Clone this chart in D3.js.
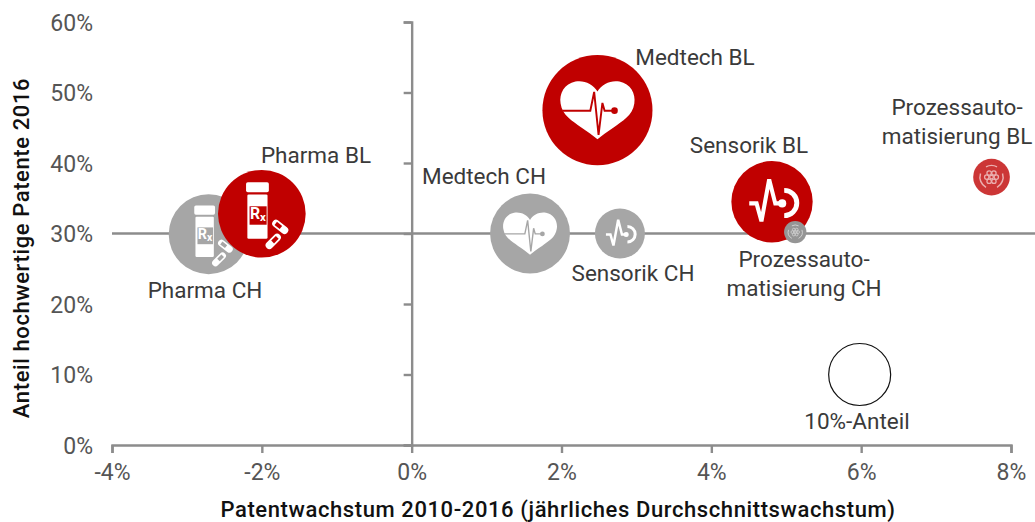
<!DOCTYPE html>
<html><head><meta charset="utf-8">
<script src="https://cdn.jsdelivr.net/npm/d3@7"></script>
<style>html,body{margin:0;background:#fff}svg{display:block}text{font-family:Roboto,sans-serif}</style>
</head><body><svg id="c" width="1035" height="522"></svg>
<script>
const names=["Pharma CH","Medtech CH","Sensorik CH","Pharma BL","Medtech BL","Sensorik BL","Prozess BL","Prozess CH","10%-Anteil"];
const growth=[-2.71,1.58,2.78,-2.0,2.48,4.81,7.74,5.12,5.98];
const share=[29.9,30,30,32.8,47.5,34.5,38,30.2,10];
const size=[16.6,16.6,6.5,20,31.5,17.2,3.5,1.3,10];
const icons=["pharma","heart","sensor","pharma","heart","sensor","gear","gear","none"];
const fills=["#a6a6a6","#a6a6a6","#a6a6a6","#c00000","#c00000","#c00000","#cc3636","#959595","#fff"];
const xTicks=[-4,-2,0,2,4,6,8];
const yTicks=[0,10,20,30,40,50,60];
const labels=[
 {t:["Medtech BL"],x:695,y:58},
 {t:["Pharma BL"],x:316,y:156},
 {t:["Medtech CH"],x:484,y:177},
 {t:["Sensorik BL"],x:749,y:146},
 {t:["Pharma CH"],x:205,y:291},
 {t:["Sensorik CH"],x:633,y:274},
 {t:["Prozessauto-","matisierung BL"],x:957,y:108},
 {t:["Prozessauto-","matisierung CH"],x:804,y:260},
 {t:["10%-Anteil"],x:857,y:422}
];
const svg=d3.select("#c");
const x=d3.scaleLinear().domain([-4,8]).range([112,1011]);
const y=d3.scaleLinear().domain([0,60]).range([445,22]);
const r=d3.scaleSqrt().domain([0,10]).range([0,31]);
const AX="#8c8c8c",TK="#555";
const gx=svg.append("g").attr("transform",`translate(0,${y(0)})`).call(d3.axisBottom(x).tickValues(xTicks).tickSize(8).tickFormat(d=>d+"%"));
const gy=svg.append("g").attr("transform",`translate(${x(0)},0)`).call(d3.axisLeft(y).tickValues(yTicks).tickSize(8).tickFormat(d=>d+"%"));
[gx,gy].forEach(g=>{g.selectAll("path").attr("stroke",AX).attr("stroke-width",2.4);
 g.selectAll("line").attr("stroke",AX).attr("stroke-width",2.4);
 g.selectAll("text").attr("fill",TK).style("font-size","23px");});
gx.selectAll("text").attr("y",19);
gy.selectAll("text").attr("text-anchor","end").attr("x",x(-4)-x(0)-19).attr("dy",".35em");
svg.append("line").attr("x1",x(-4)).attr("x2",1035).attr("y1",y(30)).attr("y2",y(30)).attr("stroke",AX).attr("stroke-width",2.4);
const titleStyle=s=>s.attr("text-anchor","middle").style("font-size","22px").style("letter-spacing",".6px").style("font-weight",500).attr("fill","#111");
svg.append("text").attr("x",558).attr("y",517).call(titleStyle).text("Patentwachstum 2010-2016 (jährliches Durchschnittswachstum)");
svg.append("text").attr("transform","translate(29,248) rotate(-90)").call(titleStyle).text("Anteil hochwertige Patente 2016");
const drawers={
 heart(g,c){
  g.append("path").attr("fill","#fff").attr("d","M0,-.34C-.08,-.48-.25,-.55-.4,-.52C-.6,-.48-.7,-.3-.67,-.12C-.64,.1-.45,.2-.3,.31C-.18,.39-.08,.46,0,.53C.08,.46,.18,.39,.3,.31C.45,.2,.64,.1,.67,-.12C.7,-.3,.6,-.48,.4,-.52C.25,-.55,.08,-.48,0,-.34Z");
  g.append("path").attr("fill","none").attr("stroke",c).attr("stroke-width",.035).attr("d","M-.64,.01H-.13L-.06,-.33L.02,.45L.09,-.13L.13,.01H.3");
  g.append("circle").attr("cx",.31).attr("cy",.01).attr("r",.06).attr("fill",c);
 },
 pharma(g,c){
  g.append("rect").attr("x",-.36).attr("y",-.72).attr("width",.52).attr("height",.23).attr("rx",.04).attr("fill","#fff");
  g.append("rect").attr("x",-.33).attr("y",-.44).attr("width",.46).attr("height",1.01).attr("rx",.03).attr("fill","#fff");
  g.append("rect").attr("x",-.28).attr("y",-.17).attr("width",.39).attr("height",.42).attr("fill",c);
  const t=g.append("text").attr("x",-.09).attr("y",.11).attr("text-anchor","middle").style("font-family","Roboto").style("font-weight",700).attr("fill","#fff").style("font-size",".36px");
  t.append("tspan").text("R");
  t.append("tspan").attr("dy",.05).style("font-size",".26px").text("x");
  [[.42,.3,38],[.26,.63,-45]].forEach(p=>{
   const k=g.append("g").attr("transform",`translate(${p[0]},${p[1]}) rotate(${p[2]})`);
   k.append("rect").attr("x",-.21).attr("y",-.085).attr("width",.42).attr("height",.17).attr("rx",.085).attr("fill","#fff");
   k.append("rect").attr("x",p[2]>0?-.13:-.02).attr("y",-.045).attr("width",.15).attr("height",.09).attr("fill",c);
  });
 },
 sensor(g){
  g.append("path").attr("fill","none").attr("stroke","#fff").attr("stroke-width",.1).attr("d","M-.56,.04H-.38L-.26,.48L-.07,-.55L.08,.04H.25");
  g.append("circle").attr("cx",.25).attr("cy",.04).attr("r",.1).attr("fill","#fff");
  g.append("path").attr("fill","none").attr("stroke","#fff").attr("stroke-width",.12).attr("d","M.3,-.28A.31,.31,0,1,1,.3,.34");
 },
 gear(g,c){
  const light=d3.interpolateRgb(c,"#fff")(.6);
  g.selectAll("circle.p").data(d3.range(6)).join("circle").attr("cx",d=>.26*Math.cos(d*Math.PI/3)).attr("cy",d=>.26*Math.sin(d*Math.PI/3)).attr("r",.12).attr("fill","none").attr("stroke",light).attr("stroke-width",.07);
  g.append("circle").attr("r",.1).attr("fill","none").attr("stroke",light).attr("stroke-width",.07);
  g.append("path").attr("fill","none").attr("stroke",light).attr("stroke-width",.08).attr("d","M-.6,-.2A.64,.64,0,0,0,-.3,.56M.6,-.2A.64,.64,0,0,1,.3,.56M-.3,-.56A.64,.64,0,0,1,.3,-.56");
 },
 none(){}
};
names.forEach((n,i)=>{
 const R=r(size[i]);
 const g=svg.append("g").attr("transform",`translate(${x(growth[i])},${y(share[i])})`);
 g.append("circle").attr("r",R).attr("fill",fills[i]).attr("stroke",icons[i]=="none"?"#111":"none").attr("stroke-width",1.2);
 const u=g.append("g").attr("transform",`scale(${R})`);
 drawers[icons[i]](u,fills[i]);
});
labels.forEach(l=>{
 const t=svg.append("text").attr("text-anchor","middle").attr("fill","#3a3a3a").style("font-size","22.5px");
 l.t.forEach((s,i)=>t.append("tspan").attr("x",l.x).attr("y",l.y+i*29+7).text(s));
});
</script></body></html>
